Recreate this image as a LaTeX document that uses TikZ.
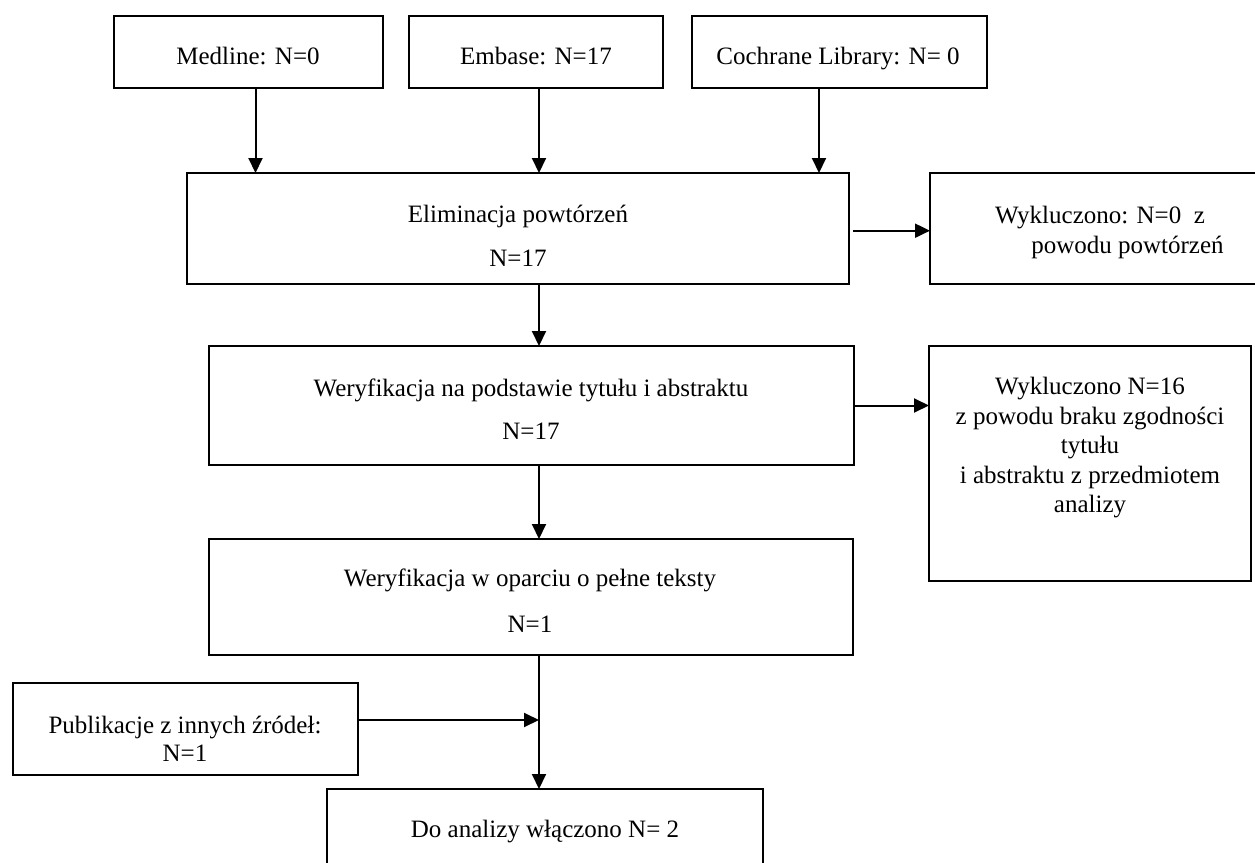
\documentclass[tikz,border=0pt]{standalone}
\usepackage{fontspec}
\setmainfont{Liberation Serif}
\usetikzlibrary{arrows.meta}
\begin{document}
\begin{tikzpicture}[x=0.5pt,y=-0.5pt,
  box/.style={draw, line width=1pt, inner sep=0pt, outer sep=0pt},
  txt/.style={align=center, inner sep=0pt, font=\fontsize{12.5}{14.75}\selectfont},
  arr/.style={line width=1pt, -{Triangle[length=7.5pt,width=7pt]}}]
\useasboundingbox (0,0) rectangle (1255,863);
\clip (0,0) rectangle (1255,863);
% boxes
\node[box, minimum width=134.5pt, minimum height=36pt] (med) at (248.5,52) {};
\node[box, minimum width=127pt, minimum height=36pt] (emb) at (536,52) {};
\node[box, minimum width=147.5pt, minimum height=36pt] (coch) at (839,52) {};
\node[box, minimum width=331pt, minimum height=55.5pt] (elim) at (518,228.5) {};
\node[box, minimum width=172.5pt, minimum height=55.5pt] (wyk1) at (1102.5,228.5) {};
\node[box, minimum width=322.5pt, minimum height=59.5pt] (wtyt) at (531.5,405.5) {};
\node[box, minimum width=161pt, minimum height=117.5pt] (wyk2) at (1090,463.5) {};
\node[box, minimum width=322pt, minimum height=58pt] (wpel) at (531,597) {};
\node[box, minimum width=172.5pt, minimum height=46pt] (publ) at (185,729) {};
\node[box, minimum width=218pt, minimum height=43pt] (doan) at (545,832) {};
% texts
\node[txt] (tmed) at (248,55.5) {Medline: N=0};
\node[txt] (temb) at (536,55.5) {Embase: N=17};
\node[txt] (tcoch) at (838,59) {Cochrane Library: N= 0};
\node[txt] (telim) at (518,236) {Eliminacja powtórzeń\\[7.5pt]N=17};
\node[txt] (twyk1) at (1100,232) {Wykluczono: N=0\ \ z\\[0.25pt]\hspace*{27.5pt}powodu powtórzeń};
\node[txt] (twtyt) at (531,409) {Weryfikacja na podstawie tytułu i abstraktu\\[7pt]N=17};
\node[txt] (twyk2) at (1090,448) {Wykluczono N=16\\z powodu braku zgodności\\tytułu\\i abstraktu z przedmiotem\\analizy};
\node[txt] (twpel) at (530,601) {Weryfikacja w oparciu o pełne teksty\\[8.25pt]N=1};
\node[txt] (tpubl) at (185,739) {Publikacje z innych źródeł:\\[-1pt]N=1};
\node[txt] (tdoan) at (545,832) {Do analizy włączono N= 2};
% connector guides
\coordinate (c1) at (255.5,0);
\coordinate (c2) at (539,0);
\coordinate (c3) at (819,0);
\coordinate (r1) at (0,230.7);
\coordinate (m) at (539,720);
% connectors
\draw[arr] (c1 |- med.south) -- (c1 |- elim.north);
\draw[arr] (c2 |- emb.south) -- (c2 |- elim.north);
\draw[arr] (c3 |- coch.south) -- (c3 |- elim.north);
\draw[arr, shorten <=2pt] (elim.east |- r1) -- (wyk1.west |- r1);
\draw[arr] (c2 |- elim.south) -- (c2 |- wtyt.north);
\draw[arr] (wtyt.east) -- (wtyt.east -| wyk2.west);
\draw[arr] (c2 |- wtyt.south) -- (c2 |- wpel.north);
\draw[arr] (c2 |- wpel.south) -- (c2 |- doan.north);
\draw[arr] (publ.east |- m) -- (m);
\end{tikzpicture}
\end{document}
